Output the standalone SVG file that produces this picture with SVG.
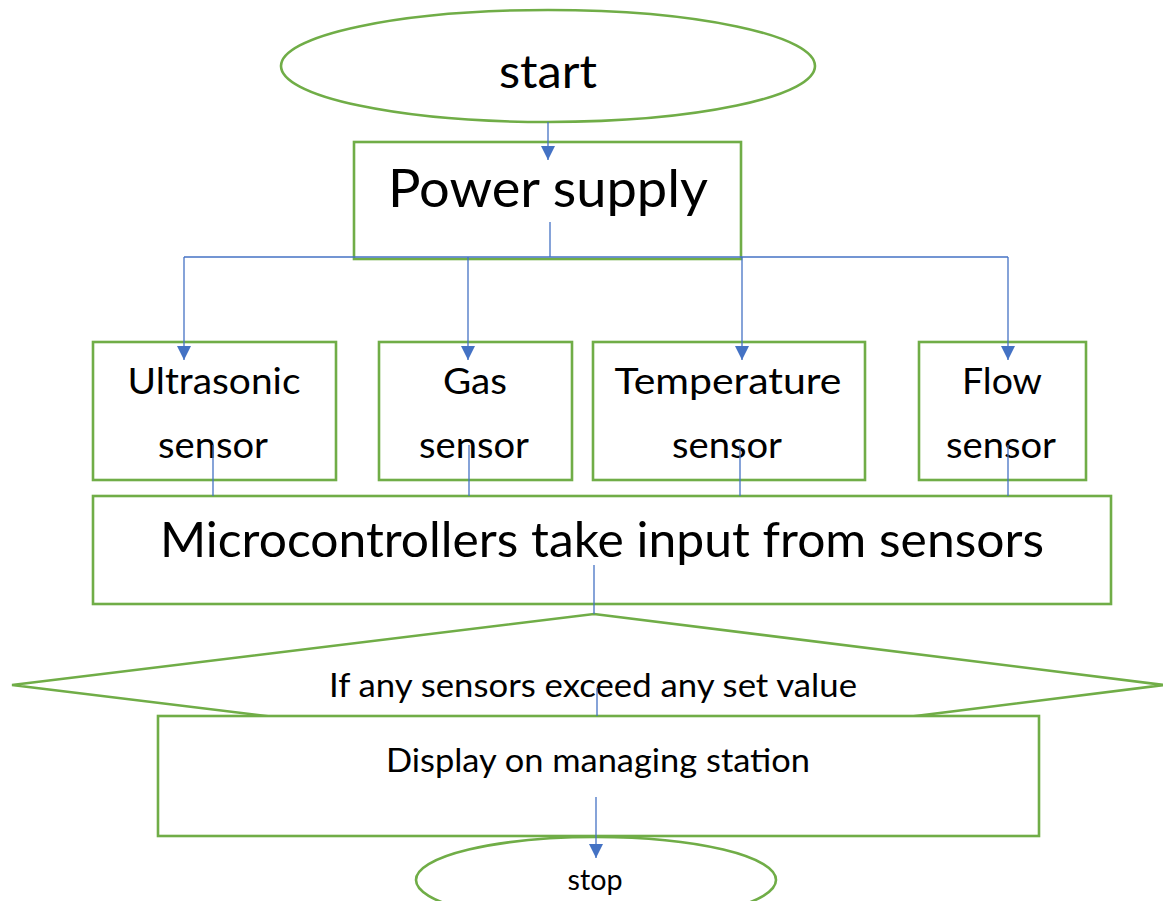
<svg xmlns="http://www.w3.org/2000/svg" width="1163" height="901" viewBox="0 0 1163 901">
<defs>
<marker id="arr" markerUnits="userSpaceOnUse" markerWidth="16" markerHeight="16" viewBox="0 0 16 16" refX="14" refY="8" orient="auto">
<path d="M0,1 L14,8 L0,15 Z" fill="#4472C4"/>
</marker>
</defs>
<style>
.shape{fill:#FFFFFF;stroke:#70AD47;stroke-width:2.6}
.conn{fill:none;stroke:#4472C4;stroke-width:1.3}
text{font-family:Lato,"Open Sans","Liberation Sans",sans-serif;fill:#000000;text-anchor:middle}
</style>
<rect width="1163" height="901" fill="#FFFFFF"/>
<g id="start">
<ellipse class="shape" cx="548" cy="66" rx="267" ry="56"/>
<text x="548" y="88" font-size="47" textLength="98" lengthAdjust="spacingAndGlyphs">start</text>
</g>
<g id="power-supply">
<rect class="shape" x="354" y="142" width="387" height="117"/>
<text x="548" y="207" font-size="52" textLength="320" lengthAdjust="spacingAndGlyphs">Power supply</text>
</g>
<g id="ultrasonic-sensor">
<rect class="shape" x="93" y="342" width="243" height="138"/>
<text x="214" y="394" font-size="37" textLength="173" lengthAdjust="spacingAndGlyphs">Ultrasonic</text>
<text x="213" y="458" font-size="37" textLength="110" lengthAdjust="spacingAndGlyphs">sensor</text>
</g>
<g id="gas-sensor">
<rect class="shape" x="379" y="342" width="193" height="138"/>
<text x="475" y="394" font-size="37" textLength="64" lengthAdjust="spacingAndGlyphs">Gas</text>
<text x="474" y="458" font-size="37" textLength="110" lengthAdjust="spacingAndGlyphs">sensor</text>
</g>
<g id="temperature-sensor">
<rect class="shape" x="593" y="342" width="272" height="138"/>
<text x="728" y="394" font-size="37" textLength="227" lengthAdjust="spacingAndGlyphs">Temperature</text>
<text x="727" y="458" font-size="37" textLength="110" lengthAdjust="spacingAndGlyphs">sensor</text>
</g>
<g id="flow-sensor">
<rect class="shape" x="919" y="342" width="167" height="138"/>
<text x="1002" y="394" font-size="37" textLength="80" lengthAdjust="spacingAndGlyphs">Flow</text>
<text x="1001" y="458" font-size="37" textLength="110" lengthAdjust="spacingAndGlyphs">sensor</text>
</g>
<g id="microcontrollers">
<rect class="shape" x="93" y="496" width="1018" height="108"/>
<text x="602" y="557" font-size="48" textLength="884" lengthAdjust="spacingAndGlyphs">Microcontrollers take input from sensors</text>
</g>
<g id="decision">
<polygon class="shape" points="594,614 1164,685 594,756 12,685"/>
<text x="593" y="697" font-size="33" textLength="528" lengthAdjust="spacingAndGlyphs">If any sensors exceed any set value</text>
</g>
<g id="stop">
<ellipse class="shape" cx="596" cy="880" rx="180" ry="43"/>
<text x="595" y="890" font-size="28" textLength="55" lengthAdjust="spacingAndGlyphs">stop</text>
</g>
<g id="display">
<rect class="shape" x="158" y="716" width="881" height="120"/>
<text x="598" y="772" font-size="33" textLength="424" lengthAdjust="spacingAndGlyphs">Display on managing station</text>
</g>
<g id="connectors">
<line class="conn" x1="548" y1="122" x2="548" y2="160" marker-end="url(#arr)"/>
<line class="conn" x1="550" y1="222" x2="550" y2="257"/>
<line class="conn" x1="184" y1="257" x2="1008" y2="257"/>
<line class="conn" x1="184" y1="257" x2="184" y2="360" marker-end="url(#arr)"/>
<line class="conn" x1="468" y1="257" x2="468" y2="360" stroke-width="2" marker-end="url(#arr)"/>
<line class="conn" x1="742" y1="257" x2="742" y2="360" marker-end="url(#arr)"/>
<line class="conn" x1="1008" y1="257" x2="1008" y2="360" marker-end="url(#arr)"/>
<line class="conn" x1="213" y1="445" x2="213" y2="496"/>
<line class="conn" x1="469" y1="445" x2="469" y2="496"/>
<line class="conn" x1="740" y1="445" x2="740" y2="496"/>
<line class="conn" x1="1008" y1="445" x2="1008" y2="496"/>
<line class="conn" x1="594" y1="565" x2="594" y2="614"/>
<line class="conn" x1="597" y1="688" x2="597" y2="716"/>
<line class="conn" x1="596" y1="797" x2="596" y2="858" marker-end="url(#arr)"/>
</g>
</svg>
